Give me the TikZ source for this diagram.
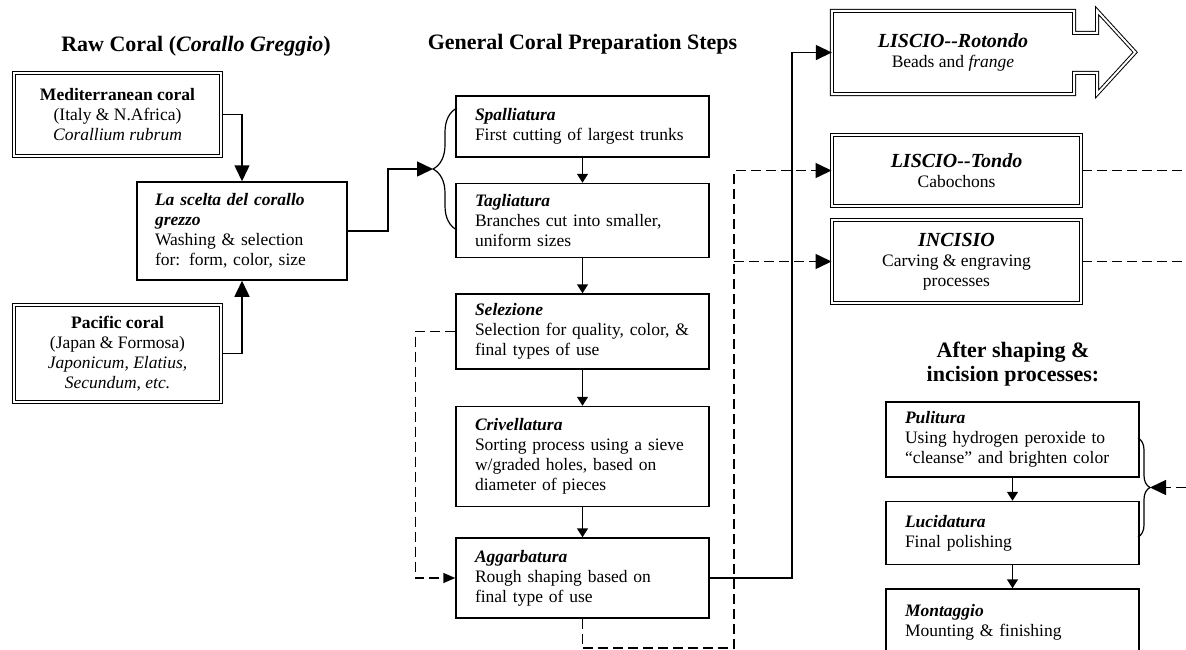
\documentclass[tikz,border=0pt]{standalone}
\usepackage{fontspec}
\setmainfont{Liberation Serif}
\usetikzlibrary{positioning,arrows.meta,decorations.pathreplacing}
\newcommand{\stepfont}{\fontsize{17.5}{20}\selectfont}
\newcommand{\headfont}{\fontsize{20}{22}\selectfont}
\newcommand{\titlefont}{\fontsize{22}{24}\selectfont\bfseries}
\newcommand{\stephead}[1]{\textbf{\textit{#1}}}
\tikzset{
  stepbox/.style={draw,line width=1.5pt,align=left,text width=215pt,inner xsep=19pt,font=\stepfont},
  rawbox/.style={draw,double,double distance=2pt,line width=1pt,align=center,font=\stepfont},
  flow/.style={line width=1.5pt},
  dashflow/.style={line width=1.5pt,dash pattern=on 10pt off 5pt},
  bigtip/.style={-{Triangle[length=16pt,width=15pt]}},
  midtip/.style={-{Triangle[length=12pt,width=10pt]}},
  smalltip/.style={-{Triangle[length=9pt,width=11pt]}},
  bracket/.style={line width=1.2pt,decorate,decoration={brace,amplitude=#1}}
}
\begin{document}
\begin{tikzpicture}[x=1pt,y=-1pt]
  \useasboundingbox (0,0) rectangle (1186,649);

  % titles
  \node[font=\titlefont] (rawtitle) at (196,46) {Raw Coral (\textit{Corallo Greggio})};
  \node[font=\titlefont] (gentitle) at (582.5,44) {General Coral Preparation Steps};
  \node[font=\titlefont,align=center] (aftertitle) at (1013,364) {After shaping \&\\incision processes:};

  % raw coral
  \node[rawbox,minimum width=207pt,minimum height=83pt] (med) at (117.5,114.5)
    {\textbf{Mediterranean coral}\\(Italy \& N.Africa)\\\textit{Corallium rubrum}};
  \node[rawbox,minimum width=207pt,minimum height=97pt] (pac) at (117.5,353.5)
    {\textbf{Pacific coral}\\(Japan \& Formosa)\\\textit{Japonicum, Elatius,}\\\textit{Secundum, etc.}};
  \node[stepbox,text width=174pt,inner xsep=18pt,minimum height=98pt] (scelta) at (242,231)
    {\stephead{La scelta del corallo}\\\stephead{grezzo}\\Washing \& selection\\for: form, color, size};

  % general steps
  \node[stepbox,minimum height=61pt] (spall) at (582.5,126.5)
    {\stephead{Spalliatura}\\First cutting of largest trunks};
  \node[stepbox,minimum height=74pt,below=25pt of spall] (tagl)
    {\stephead{Tagliatura}\\Branches cut into smaller,\\uniform sizes};
  \node[stepbox,minimum height=75pt,below=35pt of tagl] (sel)
    {\stephead{Selezione}\\Selection for quality, color, \&\\final types of use};
  \node[stepbox,minimum height=100pt,below=36pt of sel] (criv)
    {\stephead{Crivellatura}\\Sorting process using a sieve\\w/graded holes, based on\\diameter of pieces};
  \node[stepbox,minimum height=80pt,below=30pt of criv] (agg)
    {\stephead{Aggarbatura}\\Rough shaping based on\\final type of use};

  % shaping
  \node[minimum width=242pt,minimum height=83pt,align=center,font=\stepfont] (rotondo) at (953,52.5)
    {{\headfont\stephead{LISCIO-{}-Rotondo}}\\Beads and \textit{frange}};
  \draw[line width=1pt,double,double distance=2pt] (rotondo.north west) -- (rotondo.north east)
    -- ++(0,22) -- ++(23,0) -- ++(0,-22) -- ++(38,41.5) -- ++(-38,41.5) -- ++(0,-21)
    -- ++(-23,0) -- (rotondo.south east) -- (rotondo.south west) -- cycle;
  \node[rawbox,minimum width=249pt,minimum height=71pt] (tondo) at (956.5,170.5)
    {{\headfont\stephead{LISCIO-{}-Tondo}}\\Cabochons};
  \node[rawbox,minimum width=249pt,minimum height=83pt] (incisio) at (956.5,261.5)
    {{\headfont\stephead{INCISIO}}\\Carving \& engraving\\processes};

  % finishing
  \node[stepbox,minimum height=75pt] (pul) at (1012.5,439.5)
    {\stephead{Pulitura}\\Using hydrogen peroxide to\\“cleanse” and brighten color};
  \node[stepbox,minimum height=63pt,below=23pt of pul] (luc)
    {\stephead{Lucidatura}\\Final polishing};
  \node[stepbox,minimum height=66pt,below=23pt of luc] (mont)
    {\stephead{Montaggio}\\Mounting \& finishing};

  \coordinate (ltip) at (433,169);
  \coordinate (rtip) at (1150,487.5);
  \coordinate (dloop) at (734,648);
  \coordinate (redge) at (1186,0);

  \draw[bracket=24pt] (457,230) -- (457,108);
  \draw[bracket=12pt] (1138,438) -- (1138,537);

  \draw[flow,bigtip] (med.east) -| (scelta.north);
  \draw[flow,bigtip] (pac.east) -| (scelta.south);
  \draw[flow,bigtip] (scelta.east) -- ++(40,0) |- (ltip);

  \draw[flow,smalltip] (spall.south) -- (tagl.north);
  \draw[flow,smalltip] (tagl.south) -- (sel.north);
  \draw[flow,smalltip] (sel.south) -- (criv.north);
  \draw[flow,smalltip] (criv.south) -- (agg.north);
  \draw[flow,smalltip] (pul.south) -- (luc.north);
  \draw[flow,smalltip] (luc.south) -- (mont.north);

  \draw[dashflow,midtip] (sel.west) -- ++(-40,0) |- (agg.west);
  \draw[flow,bigtip] (agg.east) -- ++(82,0) |- (rotondo.west);
  \draw[dashflow,bigtip] (agg.south) |- (dloop) |- (tondo.west);
  \draw[dashflow,bigtip] (dloop |- incisio.west) -- (incisio.west);

  \draw[dashflow] (tondo.east) -- (tondo.east -| redge);
  \draw[dashflow] (incisio.east) -- (incisio.east -| redge);
  \draw[dashflow,bigtip] (rtip -| redge) -- (rtip);
\end{tikzpicture}
\end{document}
